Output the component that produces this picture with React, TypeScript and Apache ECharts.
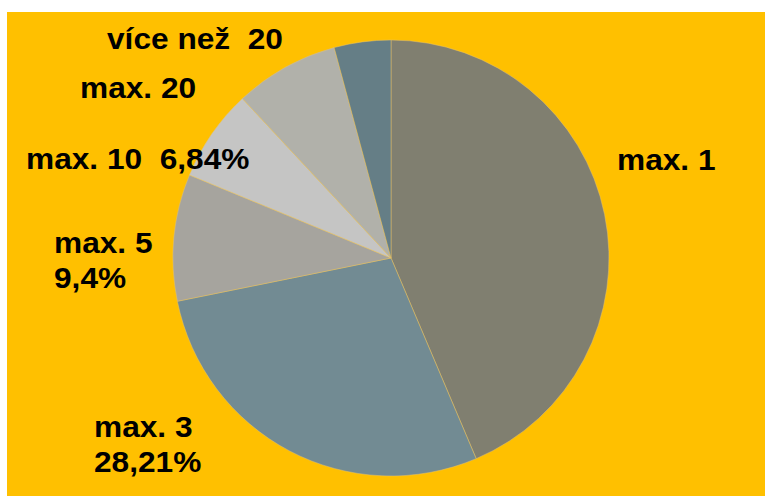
import React, { useEffect, useRef } from "react";
import * as echarts from "echarts";

const categories = ["max. 1", "max. 3", "max. 5", "max. 10", "max. 20", "více než  20"];
const values = [43.61, 28.21, 9.4, 6.84, 7.74, 4.2];
const colors = ["#807F70", "#728B93", "#A6A49E", "#C5C5C4", "#B1B1AA", "#657E86"];
const labelTexts = [
  "max. 1",
  "max. 3\n28,21%",
  "max. 5\n9,4%",
  "max. 10  6,84%",
  "max. 20",
  "více než  20",
];

export default function App() {
  const ref = useRef<HTMLDivElement>(null);
  useEffect(() => {
    if (!ref.current) return;
    const chart = echarts.init(ref.current, null, { renderer: "svg" });
    const font = {
      fontFamily: "'Liberation Sans', Arial, sans-serif",
      fontWeight: "bold" as const,
      fontSize: 30,
      fill: "#000",
    };
    const labelPos = [
      { x: 617, y: 159.6, lh: 35 },
      { x: 94, y: 443.8, lh: 35 },
      { x: 54, y: 260.4, lh: 35 },
      { x: 26, y: 159, lh: 35 },
      { x: 80, y: 88, lh: 35 },
      { x: 107, y: 39, lh: 35 },
    ];
    chart.setOption({
      animation: false,
      backgroundColor: "#FFFFFF",
      graphic: [
        {
          type: "rect",
          z: -10,
          shape: { x: 7, y: 12, width: 758, height: 484 },
          style: { fill: "#FFC000" },
          silent: true,
        },
        ...labelTexts.map((t, i) => ({
          type: "text",
          z: 10,
          x: labelPos[i].x,
          y: labelPos[i].y,
          scaleX: 1.055,
          style: {
            ...font,
            text: t,
            lineHeight: labelPos[i].lh,
            textAlign: "left",
            textVerticalAlign: "middle",
          },
        })),
      ],
      series: [
        {
          type: "pie",
          center: [391, 258],
          radius: 218,
          startAngle: 90,
          clockwise: true,
          label: { show: false },
          labelLine: { show: false },
          emphasis: { disabled: true },
          itemStyle: { borderColor: "#E6C36A", borderWidth: 0.5 },
          data: categories.map((c, i) => ({
            name: c,
            value: values[i],
            itemStyle: { color: colors[i] },
          })),
        },
      ],
    });
    return () => chart.dispose();
  }, []);
  return (
    <div
      ref={ref}
      style={{ position: "absolute", left: 0, top: 0, width: 765, height: 497 }}
    />
  );
}
